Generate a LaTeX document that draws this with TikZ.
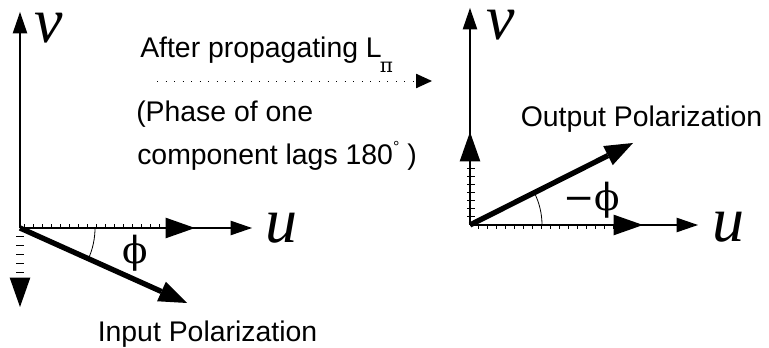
\documentclass[tikz,border=0pt]{standalone}
\usepackage{fontspec}
\setmainfont{Liberation Sans}
\newfontfamily\axisfont{Liberation Serif}
\newfontfamily\greekfont{DejaVu Serif}
\usetikzlibrary{arrows.meta}

\begin{document}
\begin{tikzpicture}[
        x=0.75pt, y=-0.75pt,
        every node/.style={font=\fontsize{21.3}{24}\selectfont, inner sep=0pt},
        axis/.style={line width=2pt, -{Triangle[length=16pt, width=11pt, line width=0pt]}},
        comphead/.style={line width=2pt, -{Triangle[length=22pt, width=15.5pt, line width=0pt]}},
        polvec/.style={line width=4pt, -{Triangle[length=21pt, width=16pt, line width=0pt]}},
        propagation/.style={line width=0.7pt, dash pattern=on 0.7pt off 5.7pt,
            -{Triangle[length=12pt, width=11pt, line width=0pt]}},
        tick/.style={line width=0.6pt},
        anglearc/.style={line width=0.6pt},
        axislabel/.style={font=\fontsize{48}{48}\axisfont\itshape, anchor=base west,
            text height=16pt, text depth=0pt},
        anglelabel/.style={font=\fontsize{28}{28}\greekfont},
        textlabel/.style={anchor=base west}
    ]
    \useasboundingbox (0,0) rectangle (769,348);

    % =========================
    % Input side
    % =========================
    \coordinate (o1) at (20,228);
    \coordinate (v1) at (20,12);
    \coordinate (u1) at (252,228);
    \coordinate (uc1) at (195,228);
    \coordinate (vc1s) at (20,278);
    \coordinate (vc1) at (20,307);
    \coordinate (pin) at (187,303);

    \draw[axis] (o1) -- (v1);
    \draw[axis] (o1) -- (u1);

    % u component (ticked) and v component (dashes)
    \foreach \x in {24,33,...,159}
        \draw[tick] (\x,228) -- (\x,224);
    \draw[comphead] (o1) -- (uc1);
    \foreach \y in {236,245,...,272}
        \draw[tick] (16,\y) -- (24,\y);
    \draw[comphead] (vc1s) -- (vc1);

    \draw[polvec] (o1) -- (pin);
    \draw[anglearc] (o1) ++(75,0) arc[start angle=0, end angle=24.2, radius=75];

    \node[axislabel] (vlab1) at (34,43) {v};
    \node[axislabel] (ulab1) at (265,243) {u};
    \node[anglelabel] (phi1) at (135,253) {ϕ};
    \node[textlabel] (inpol) at (97.5,342) {Input Polarization};

    % =========================
    % Propagation
    % =========================
    \coordinate (prop0) at (157,81);
    \coordinate (prop1) at (432,81);
    \draw[propagation] (prop0) -- (prop1);

    \node[textlabel] (after) at (140,58)
        {After propagating L\kern-1.5pt\raisebox{-11pt}{\fontsize{15}{15}\greekfont π}};
    \node[textlabel] (phase1) at (136,122) {(Phase of one};
    \node[textlabel] (phase2) at (137,165)
        {component lags 180\raisebox{9pt}{\fontsize{12}{12}\selectfont °}\ )};

    % =========================
    % Output side
    % =========================
    \coordinate (o2) at (470,225);
    \coordinate (v2) at (470,8);
    \coordinate (u2) at (698,225);
    \coordinate (uc2) at (643,225);
    \coordinate (vc2) at (470,132);
    \coordinate (pout) at (633,143);

    \draw[axis] (o2) -- (v2);
    \draw[axis] (o2) -- (u2);

    \foreach \y in {160,168,...,220}
        \draw[tick] (467,\y) -- (475,\y);
    \draw[comphead] (o2) -- (vc2);
    \foreach \x in {478,487,...,615}
        \draw[tick] (\x,225) -- (\x,229);
    \draw[comphead] (o2) -- (uc2);

    \draw[polvec] (o2) -- (pout);
    \draw[anglearc] (o2) ++(72,0) arc[start angle=0, end angle=-26.7, radius=72];

    \node[axislabel] (vlab2) at (486,40) {v};
    \node[axislabel] (ulab2) at (712,242) {u};
    \node[anglelabel] (phi2) at (592,200) {−ϕ};
    \node[textlabel] (outpol) at (520.5,127) {Output Polarization};

\end{tikzpicture}
\end{document}
